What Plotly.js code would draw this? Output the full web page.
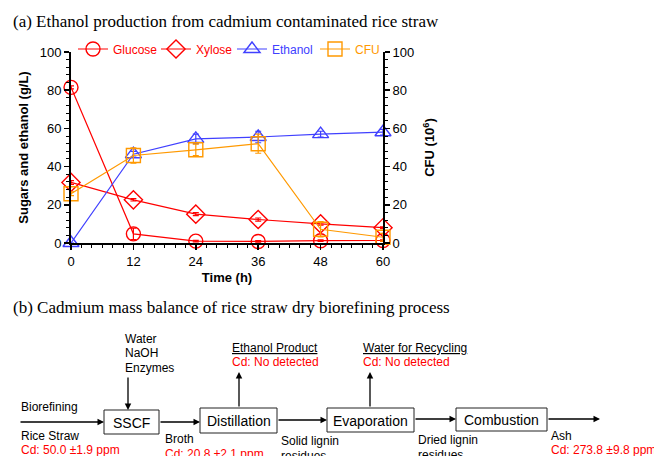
<!DOCTYPE html>
<html>
<head>
<meta charset="utf-8">
<script src="https://cdn.plot.ly/plotly-3.0.1.min.js"></script>
<style>html,body{margin:0;padding:0;background:#fff;}#chart{width:654px;height:456px;}</style>
</head>
<body>
<div id="chart"></div>
<script>
// ---- data ----
const time = [0, 12, 24, 36, 48, 60];
const glucose = [81.5, 4.8, 1.0, 0.8, 1.2, 1.3];
const glucoseErr = [0.8, 3.0, 0.4, 0.4, 0.4, 0.4];
const xylose = [31.7, 22.6, 15.1, 12.3, 10.0, 8.0];
const xyloseErr = [1.0, 0.6, 0.8, 0.8, 0.6, 0.5];
const ethanol = [0.0, 46.5, 54.5, 55.5, 57.0, 58.0];
const ethanolErr = [0.0, 1.5, 2.5, 3.0, 1.5, 1.5];
const cfu = [25.8, 45.8, 48.8, 52.0, 7.2, 3.0];
const cfuErr = [1.0, 4.0, 3.0, 5.0, 4.0, 2.0];
const xTicks = [0, 12, 24, 36, 48, 60];
const yTicks = [0, 20, 40, 60, 80, 100];
const seriesNames = ['Glucose', 'Xylose', 'Ethanol', 'CFU'];
const seriesColors = ['rgb(255,0,0)', 'rgb(255,0,0)', 'rgb(64,64,255)', 'rgb(255,153,0)'];

// ---- layout helpers (pixel -> paper) ----
const L = 71, R = 383, T = 52, B = 243, W = 654, H = 456;
const px = x => (x - L) / (R - L);
const py = y => (B - y) / (B - T);

const FONT = 'Arial, "Liberation Sans", Helvetica, sans-serif';
const SERIF = '"Times New Roman", "Liberation Serif", Times, serif';

function mkTrace(i, y, err, symbol, axis, legW) {
  return {
    x: time, y: y, yaxis: axis, type: 'scatter', mode: 'lines+markers',
    name: '<span style="color:' + seriesColors[i] + '">' + seriesNames[i] + '</span>',
    legendwidth: legW,
    line: {color: seriesColors[i], width: 1.2},
    marker: {symbol: symbol, size: 14, color: seriesColors[i], line: {color: seriesColors[i], width: 1.4}},
    error_y: {type: 'data', array: err, visible: true, color: seriesColors[i], thickness: 1.2, width: 3},
    cliponaxis: false
  };
}

const traces = [
  mkTrace(0, glucose, glucoseErr, 'circle-open', 'y', 38),
  mkTrace(1, xylose, xyloseErr, 'diamond-open', 'y', 31),
  mkTrace(2, ethanol, ethanolErr, 'triangle-up-open', 'y', 38),
  mkTrace(3, cfu, cfuErr, 'square-open', 'y2', 28)
];

// ---- flowchart ----
const shapes = [];
const annotations = [];

function text(t, x, y, opts) {
  opts = opts || {};
  annotations.push({
    text: t, xref: 'paper', yref: 'paper', x: px(x), y: py(y),
    xanchor: opts.xanchor || 'left', yanchor: 'middle', showarrow: false,
    font: {family: opts.family || FONT, size: opts.size || 12, color: opts.color || '#000'}
  });
}
function box(x0, y0, x1, y1, label) {
  shapes.push({type: 'rect', xref: 'paper', yref: 'paper', x0: px(x0), x1: px(x1), y0: py(y1), y1: py(y0),
    line: {color: '#222', width: 1}, fillcolor: 'rgba(0,0,0,0)'});
  text(label, (x0 + x1) / 2, (y0 + y1) / 2 + 0.5, {xanchor: 'center', size: 14});
}
function arrow(x0, y0, x1, y1) {
  annotations.push({
    text: '', xref: 'paper', yref: 'paper', x: px(x1), y: py(y1),
    ax: x0 - x1, ay: y0 - y1, axref: 'pixel', ayref: 'pixel',
    showarrow: true, arrowhead: 2, arrowsize: 1, arrowwidth: 1.3, arrowcolor: '#000', standoff: 0, startstandoff: 0
  });
}

// titles
text('(a) Ethanol production from cadmium contaminated rice straw', 11, 21, {family: SERIF, size: 17});
text('(b) Cadmium mass balance of rice straw dry biorefining process', 11, 307, {family: SERIF, size: 17});

// boxes
box(104, 410, 159, 434, 'SSCF');
box(200, 408, 277, 433, 'Distillation');
box(327, 408, 414, 432, 'Evaporation');
box(456, 408, 547, 431, 'Combustion');

// arrows
arrow(19, 422, 104, 422);
arrow(128, 376, 128, 410);
arrow(159, 422, 200, 422);
arrow(239, 408, 239, 372);
arrow(277, 420, 327, 420);
arrow(370, 408, 370, 372);
arrow(414, 419, 456, 419);
arrow(547, 419, 600, 419);

// labels
text('Water', 123, 339);
text('NaOH', 123, 353);
text('Enzymes', 123, 368);
text('<u>Ethanol Product</u>', 230, 348);
text('Cd: No detected', 230, 362, {color: 'rgb(255,0,0)'});
text('<u>Water for Recycling</u>', 361, 348);
text('Cd: No detected', 361, 362, {color: 'rgb(255,0,0)'});
text('Biorefining', 19, 407);
text('Rice Straw', 19, 436);
text('Cd: 50.0 \u00b11.9 ppm', 19, 450, {color: 'rgb(255,0,0)'});
text('Broth', 163, 439);
text('Cd: 20.8 \u00b12.1 ppm', 163, 454, {color: 'rgb(255,0,0)'});
text('Solid lignin', 279, 441);
text('residues', 279, 456);
text('Dried lignin', 416, 440);
text('residues', 416, 455);
text('Ash', 549, 436);
text('Cd: 273.8 \u00b19.8 ppm', 549, 450, {color: 'rgb(255,0,0)'});

const axisCommon = {
  showline: true, linecolor: '#000', linewidth: 2, mirror: false, showgrid: false, zeroline: false,
  ticks: 'outside', ticklen: 5, tickwidth: 1.5, tickcolor: '#000', automargin: true,
  tickfont: {family: FONT, size: 13, color: '#000'},
  minor: {ticks: 'outside', ticklen: 3, tickwidth: 1, tickcolor: '#000', showgrid: false}
};

const layout = {
  width: W, height: H,
  margin: {l: L, r: W - R, t: T, b: H - B, pad: 0},
  paper_bgcolor: '#fff', plot_bgcolor: 'rgba(0,0,0,0)',
  font: {family: FONT, size: 13, color: '#000'},
  showlegend: true,
  legend: {orientation: 'h', x: px(388), y: py(49), xanchor: 'right', yanchor: 'middle',
    bgcolor: 'rgba(0,0,0,0)', font: {family: FONT, size: 12}, tracegroupgap: 0, itemwidth: 30},
  xaxis: Object.assign({}, axisCommon, {
    range: [0, 60], tickvals: xTicks, ticktext: xTicks.map(String),
    minor: Object.assign({}, axisCommon.minor, {dtick: 2}),
    title: {text: '<b>Time (h)</b>', font: {family: FONT, size: 13}, standoff: 5}
  }),
  yaxis: Object.assign({}, axisCommon, {
    range: [0, 100], tickvals: yTicks, ticktext: yTicks.map(String),
    minor: Object.assign({}, axisCommon.minor, {dtick: 4}),
    title: {text: '<b>Sugars and ethanol (g/L)</b>', font: {family: FONT, size: 13}, standoff: 8}
  }),
  yaxis2: Object.assign({}, axisCommon, {
    range: [0, 100], tickvals: yTicks, ticktext: yTicks.map(String), overlaying: 'y', side: 'right',
    minor: Object.assign({}, axisCommon.minor, {dtick: 4}),
    title: {text: '<b>CFU (10<sup>6</sup>)</b>', font: {family: FONT, size: 13}, standoff: 12}
  }),
  shapes: shapes,
  annotations: annotations
};

Plotly.newPlot('chart', traces, layout, {displayModeBar: false, staticPlot: true});
</script>
</body>
</html>
